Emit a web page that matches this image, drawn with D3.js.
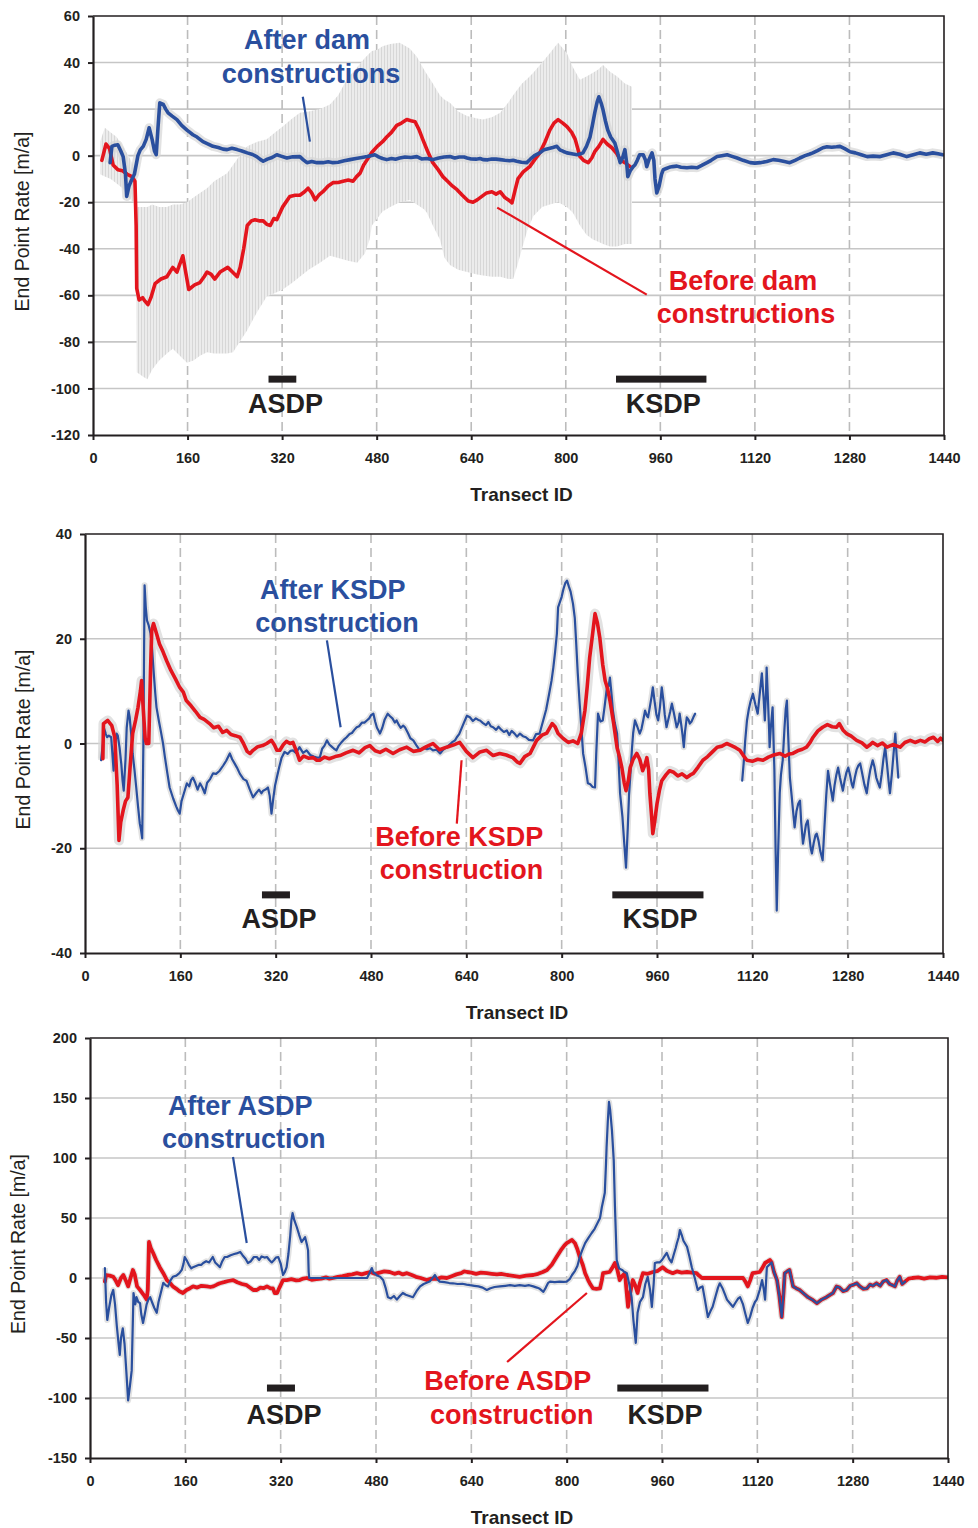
<!DOCTYPE html>
<html lang="en">
<head>
<meta charset="UTF-8">
<title>End Point Rate along transects</title>
<script src="https://d3js.org/d3.v7.min.js"></script>
<style>
    body { margin: 0; background: #ffffff; }
    svg text { font-family: "Liberation Sans", Arial, sans-serif; }
    .tick text { font-size: 14.5px; font-weight: bold; fill: #231f20; }
    .axis-title { font-size: 19px; font-weight: bold; fill: #231f20; }
    .y-title { font-size: 19.5px; fill: #231f20; }
    .note { font-size: 27px; font-weight: bold; }
</style>
</head>
<body>
<svg id="chart" width="978" height="1528"></svg>
<script>
    // ---- data: [transect id, end point rate m/a] ----
    const xTickValues = [0, 160, 320, 480, 640, 800, 960, 1120, 1280, 1440];

    // panel 1: before / after dam constructions
    const p1Before = [[15,-2],[22,5],[28,3],[34,-4],[42,-6],[50,-6.5],[58,-8],[66,-9],[71,-11],[73,-30],[74,-57],[78,-62],[84,-61],[88,-62.5],[93,-64],[98,-61],[105,-55],[115,-53],[125,-52],[130,-50],[135,-48],[142,-50],[152,-43],[162,-57.5],[172,-55.5],[181,-54.5],[188,-52],[193,-50],[200,-51],[206,-53],[215,-50],[228,-48],[236,-50],[244,-52],[249,-48],[255,-40],[261,-30],[268,-28],[274,-27.5],[281,-28],[288,-28],[294,-29.5],[300,-30],[306,-27],[311,-27.5],[321,-22],[333,-17.5],[342,-17],[350,-17],[358,-15.5],[364,-14],[370,-16],[376,-19],[382,-17],[389,-15.5],[398,-13],[406,-11.6],[415,-11.5],[423,-11],[432,-10.5],[440,-11],[446,-9],[452,-7.5],[458,-4],[464,-1.7],[472,1.5],[481,4],[490,6],[497,8],[505,10],[514,13],[522,14],[531,15.5],[538,15],[545,14.6],[552,11],[558,7],[566,2],[575,-3],[584,-6],[592,-9],[600,-11],[608,-13],[616,-14.6],[625,-17],[635,-19.5],[643,-20],[650,-19],[658,-17.5],[666,-16],[675,-15.5],[682,-16.5],[689,-15.5],[697,-18],[703,-19],[709,-20.3],[714,-15],[719,-10],[728,-7],[739,-4.7],[748,-1.5],[756,1.2],[765,6],[773,11],[780,14],[787,15.5],[795,14],[802,12.5],[810,10],[816,7],[824,-0.4],[830,-2],[838,-3],[844,-1],[849,1.7],[856,4],[863,7],[870,5],[878,3.4],[886,1],[892,-1.7],[900,-3],[909,-4.7]];

    const p1After = [[29,-3],[32,4],[37,4.5],[42,4.7],[47,2],[51,-0.4],[55,-8],[57,-17.5],[61,-13],[66,-10],[70,-8],[76,0],[80,2.5],[85,4],[90,7],[95,12],[100,7],[104,2],[107,0.4],[110,12],[113,22.7],[119,22],[123,20],[127,18.4],[134,17],[142,15.5],[150,13],[159,11],[164,10],[169,9],[176,8],[186,6],[195,5],[203,4],[212,3.5],[220,2.8],[227,2.6],[235,3.2],[244,2.6],[252,2],[261,1.2],[270,0.5],[277,-0.4],[283,-1.6],[288,-2.4],[295,-1.5],[303,-0.8],[311,0.4],[318,-0.2],[328,-1],[338,-0.5],[350,-0.4],[356,-1.8],[362,-3],[370,-2.5],[379,-3],[389,-3],[398,-2.6],[406,-3],[415,-2.8],[425,-2.2],[435,-1.7],[445,-1.2],[455,-0.8],[464,-0.4],[470,0],[477,0.4],[484,-0.6],[490,-1.2],[497,-1.7],[505,-1.2],[512,-1.5],[519,-1],[528,-0.6],[538,-0.8],[548,-0.4],[556,-1.4],[565,-1.2],[575,-1.7],[585,-1],[594,-0.6],[604,-0.4],[612,-1],[620,-0.6],[628,-0.6],[633,-1],[640,-1.4],[648,-1.5],[655,-1.2],[660,-1.7],[668,-1.8],[675,-1.4],[682,-1.5],[689,-1.7],[697,-2],[705,-2.2],[711,-2],[717,-2.4],[725,-2.8],[734,-3],[740,-1.5],[747,0],[756,1.2],[763,2.5],[770,3],[778,3.5],[785,4],[790,2.5],[796,1.8],[802,1.2],[810,0.8],[819,0.4],[825,0.8],[829,1.2],[835,4],[841,8],[845,13],[849,18.4],[853,23],[856,25.3],[860,22.5],[863,19.7],[867,15],[871,11],[876,8],[883,5.4],[888,1],[892,-3],[896,-1],[900,2.6],[903,-3],[905,-9],[909,-6.5],[914,-4.7],[917,-4],[921,-2],[925,0.4],[931,0.4],[935,-2],[937,-4.7],[941,-1.5],[946,1.2],[949,-2],[951,-10],[954,-16],[958,-13],[962,-8],[965,-6],[970,-5.5],[975,-5],[981,-4.7],[988,-4.5],[995,-5],[1005,-5.2],[1013,-5],[1022,-5.2],[1030,-4.2],[1039,-3],[1046,-2],[1056,-0.4],[1064,0],[1073,0.4],[1080,-0.2],[1090,-1],[1100,-2],[1112,-3],[1120,-3.2],[1129,-3],[1140,-2.5],[1151,-1.7],[1160,-2],[1170,-2.5],[1179,-3],[1188,-2],[1196,-1],[1205,0],[1212,0.6],[1218,1.2],[1226,2.2],[1235,3.4],[1242,3.8],[1250,3.6],[1258,3.8],[1264,4],[1272,3],[1281,1.7],[1290,1.2],[1300,0.4],[1310,-0.4],[1320,-0.2],[1332,-0.4],[1343,0.4],[1354,1.2],[1365,0.6],[1377,-0.4],[1388,0.4],[1399,1.2],[1410,0.6],[1421,1.2],[1430,0.8],[1438,0.4]];

    // uncertainty band of the "before" series: [id, low, high]
    const p1Band = [[12,-8,6],[20,-9,12],[30,-10,10],[40,-12,8],[50,-14,4],[60,-18,0],[68,-20,-4],[72,-21,-8],[74,-93,-22],[85,-95,-22],[92,-96,-22],[100,-92,-21],[112,-88,-22],[125,-85,-22],[135,-83,-21],[147,-86,-21],[159,-89,-20],[170,-88,-18],[181,-86,-16],[193,-84.5,-14],[205,-85,-11],[218,-85,-9],[227,-85,-7.5],[237,-84.5,-4],[248,-80,0],[261,-75,4],[278,-67,6],[294,-60.5,7],[308,-59,10],[321,-57.5,12.5],[335,-55,15.5],[350,-52,18.4],[365,-49,19],[384,-46,20],[401,-43,22],[415,-44,26],[430,-45,33],[447,-46,38],[460,-42,42],[468,-36,44],[472,-30,45],[481,-27,45.5],[490,-24,47],[503,-22,48],[519,-20,48.5],[536,-19,46],[548,-21,42.5],[560,-23,37],[565,-24.5,35],[575,-30,31],[587,-36,26],[595,-44,24],[604,-47,22.7],[618,-49,19],[633,-50,17],[650,-51,16],[660,-51.5,15.5],[675,-52,16.5],[689,-52,18.4],[703,-53,23],[711,-53,26],[717,-48,28],[726,-40,31],[735,-32,33],[745,-26,35.6],[760,-22,40],[773,-21,44],[787,-20,48.5],[802,-22,44],[812,-24.5,38],[824,-30,32.6],[835,-34,34],[846,-36,35.6],[855,-37,37],[863,-38,39],[875,-39,36],[887,-39,34],[900,-38,31],[912,-38,29.6]];

    // panel 2: before / after KSDP construction
    const p2Before = [[30,-2.9],[31,3.8],[38,4.4],[45,3.4],[50,1.2],[54,-8],[57,-18.5],[60,-15],[64,-12.8],[68,-11],[72,-10.3],[76,-4],[80,1.9],[85,4.5],[89,6.9],[93,10],[95,12],[97,8],[99,4.4],[101,1],[103,0],[107,0],[110,14],[112,21.6],[115,22.9],[120,21],[125,19],[131,17.5],[137,15.8],[144,14],[152,12.3],[159,10.7],[165,9.8],[170,8.2],[178,7.2],[185,6.2],[193,5],[200,4.6],[209,3.8],[216,3],[224,3.3],[231,2.1],[238,2.5],[245,1.7],[252,1.5],[260,1.2],[266,0],[272,-1.5],[277,-1.9],[282,-1.3],[290,-0.6],[298,-0.4],[305,0],[313,0.6],[318,-0.3],[322,-1.3],[327,-1.3],[333,-0.2],[338,0.4],[344,0],[349,0.2],[355,-1.5],[360,-3.2],[367,-2.4],[375,-2.8],[383,-2.7],[389,-3.2],[394,-3.2],[402,-2.6],[410,-2.9],[420,-2.5],[428,-2.3],[438,-1.8],[450,-1.3],[460,-1.8],[470,-0.8],[478,-0.4],[487,-1.4],[495,-1.7],[505,-1.1],[517,-1.9],[528,-1.2],[540,-0.7],[551,-1.5],[562,-1.3],[573,-0.6],[584,0],[595,-1.2],[607,-0.7],[618,-0.3],[629,0.2],[640,-1.5],[651,-2.7],[663,-1.6],[674,-1.3],[685,-2.3],[696,-1.9],[707,-2.2],[718,-2.7],[725,-3.5],[730,-3.8],[738,-2.5],[747,-1.9],[758,0.6],[767,1.6],[775,2],[784,3.8],[789,3.2],[794,1.9],[802,1],[811,0.2],[819,0.5],[827,0],[833,2],[839,6.3],[843,11],[847,16.4],[852,21],[856,24.8],[860,23],[864,20.2],[869,15],[873,12],[877,10.5],[881,8.2],[887,4],[893,-0.8],[897,-2.5],[901,-4.6],[905,-7.5],[908,-9],[912,-7],[915,-4.6],[920,-3],[926,-1.9],[931,-3],[936,-5.2],[940,-4],[943,-2.7],[946,-5],[948,-9.5],[951,-14],[953,-17.2],[956,-15],[960,-11.5],[964,-9],[968,-7.1],[975,-6],[981,-5.2],[988,-5.5],[995,-6.2],[1002,-5.8],[1010,-6.5],[1016,-6],[1021,-5.7],[1029,-4.5],[1037,-3.2],[1045,-2.5],[1053,-1.6],[1061,-0.7],[1069,-0.5],[1077,0],[1085,-0.4],[1092,-0.8],[1099,-1.3],[1105,-2.3],[1111,-3.2],[1120,-3.4],[1129,-3],[1138,-3.2],[1147,-2.6],[1156,-2.2],[1166,-1.9],[1175,-2.4],[1182,-2],[1188,-1.9],[1196,-1.4],[1204,-1.1],[1211,-0.7],[1217,0.2],[1222,1.2],[1230,2.4],[1238,3.1],[1246,3.6],[1254,3.2],[1261,3.1],[1266,3.8],[1272,2.6],[1278,1.9],[1286,1.4],[1295,0.6],[1304,0.1],[1312,-0.7],[1317,-0.3],[1322,0.2],[1330,-0.4],[1338,0.1],[1346,-0.7],[1356,-0.2],[1368,-0.7],[1376,0.2],[1385,0.6],[1393,0.2],[1402,0.6],[1410,0.3],[1417,0.9],[1424,1.2],[1431,0.4],[1436,1],[1440,0.6]];

    const p2AfterA = [[27,-3.2],[30,0],[32,2.9],[35,1.8],[37,1.2],[40,1.5],[44,1.2],[46,-2],[48,-5.2],[50,-1],[53,1.9],[55,1.5],[58,-0.8],[61,-4],[63,-7],[65,-9],[68,-3],[70,3],[73,6.3],[75,5],[78,1.2],[80,-2],[83,-5],[86,-8.4],[89,-12],[92,-15.3],[94,-16.5],[96,-18.1],[98,0],[100,30.2],[102,26],[104,23.5],[107,22.5],[110,21],[112,19.1],[115,14],[118,9.5],[120,6.9],[124,4.3],[127,2.5],[131,0],[134,-2.5],[138,-5.5],[142,-8.4],[148,-10.5],[153,-12],[156,-12.8],[159,-13.4],[162,-11],[166,-9.5],[171,-7.6],[175,-8.2],[178,-7],[181,-6.5],[185,-7.5],[189,-8.8],[193,-7.6],[197,-8.4],[201,-9.5],[205,-7.5],[210,-6.8],[215,-5.7],[220,-5.8],[226,-5.2],[232,-4.2],[237,-3.3],[243,-1.9],[247,-3],[251,-3.8],[255,-4.6],[260,-5.8],[266,-6.8],[271,-7.1],[276,-8.6],[282,-10.3],[287,-9.5],[292,-8.8],[296,-9.5],[299,-9],[303,-8.8],[307,-8.4],[310,-10],[313,-13.4],[316,-10.5],[319,-8],[322,-6.5],[326,-4.5],[330,-2.7],[335,-1.6],[340,-2],[345,-1.4],[349,-1.3],[354,-1.8],[360,-0.7],[366,-1.8],[372,-1.3],[378,-2.2],[384,-2.5],[389,-2.7],[394,-2.7],[398,-1],[402,-0.4],[406,0.6],[410,-0.2],[414,-0.6],[418,-1],[422,-1.3],[426,-0.4],[431,0.3],[435,0.8],[439,1.2],[444,1.8],[448,2],[452,2.6],[456,3.1],[460,3.3],[465,4],[469,4],[473,4.4],[477,4.8],[480,5.4],[484,5.7],[487,4.2],[490,3],[493,2.4],[495,1.9],[499,3],[503,4.6],[508,5.7],[512,5.2],[516,4.8],[520,4],[523,4.4],[527,3.5],[530,3],[534,3.4],[537,3.1],[542,2],[546,1],[551,0.6],[556,-0.3],[562,-1.3],[568,-0.8],[574,-1.1],[579,-0.9],[584,-1.3],[590,-1.2],[596,-1.9],[601,-1.2],[607,-0.7],[612,-0.2],[617,0.3],[621,0.6],[624,1.2],[628,1.8],[632,2.9],[636,4],[641,5.3],[646,5],[651,4.3],[656,4.8],[660,4.5],[663,4.4],[668,3.9],[673,3.5],[677,4.1],[681,3.3],[685,3.1],[690,2.6],[694,3.2],[699,2.6],[703,2.2],[708,2.5],[712,1.6],[716,2.4],[721,1.9],[725,1.3],[730,1.9],[735,1.4],[740,1.2],[745,0.7],[752,0.6],[757,1.8],[763,1.9],[769,4.4],[774,6.5],[779,9.5],[783,12],[786,14.5],[789,17.5],[792,21],[794,26],[797,27],[800,28],[803,29.5],[806,30.6],[809,31.1],[812,30],[815,29],[819,26.7],[822,24],[824,20],[827,13.4],[830,8],[833,3],[836,-1.9],[840,-4.5],[844,-7.6],[848,-7.8],[852,-8.3],[856,-8.4],[858,-2],[861,5.7],[865,4.2],[869,4.4],[872,7],[876,10.7],[879,11],[881,12.6],[884,9],[886,6.3],[889,4],[893,1.9],[895,-2],[898,-9.5],[902,-14],[905,-19],[908,-23.7],[911,-16],[913,-10],[915,-6.5],[918,-1],[920,2],[923,4.4],[927,3.2],[931,1.9],[934,2.8],[937,4.5],[940,6.3],[943,5.3],[945,5],[948,7],[951,9],[953,10.7],[956,8],[959,5.5],[962,4.4],[965,7],[968,10.7],[971,8],[973,5.5],[976,3.1],[979,4.6],[982,6],[985,7.6],[988,6],[991,4.3],[993,3.1],[996,4],[998,5.7],[1001,3.3],[1003,1.5],[1005,-0.7],[1007,2.2],[1010,5],[1013,4.5],[1015,3.8],[1018,4.2],[1021,5],[1024,5.7]];

    const p2AfterB = [[1103,-7.1],[1106,-3],[1108,0.5],[1111,4.4],[1114,6.5],[1117,8],[1121,9.5],[1125,7.5],[1129,5.7],[1132,9],[1136,13.4],[1139,8.5],[1141,4.4],[1143,10],[1144,14.5],[1146,9],[1148,3],[1149,-0.7],[1151,3],[1154,6.9],[1157,-5],[1159,-20],[1161,-31.9],[1163,-22],[1166,-9.5],[1168,-6],[1171,-3.2],[1174,3],[1176,6.5],[1178,8.2],[1180,2],[1183,-6.5],[1186,-10],[1188,-12.5],[1191,-16],[1194,-13],[1197,-11.5],[1200,-10.9],[1202,-15],[1205,-19.1],[1208,-17],[1210,-15.5],[1213,-14.7],[1216,-18],[1218,-20],[1220,-21],[1223,-19],[1226,-17.5],[1228,-17.2],[1231,-18.5],[1234,-20.5],[1238,-22.3],[1241,-16],[1244,-10],[1247,-5.2],[1250,-7.5],[1253,-9.5],[1255,-10.9],[1258,-8],[1261,-6],[1264,-4.6],[1267,-6.5],[1270,-8],[1272,-9],[1275,-7],[1278,-5.5],[1281,-4.6],[1284,-6],[1287,-7.8],[1289,-8.4],[1292,-6.5],[1295,-5],[1298,-4.2],[1301,-3.8],[1304,-5.5],[1308,-7.8],[1312,-9.5],[1315,-7],[1318,-5],[1322,-3.2],[1325,-4.5],[1328,-6.5],[1331,-7.5],[1334,-8.4],[1337,-6],[1340,-3],[1343,-0.7],[1346,-4],[1349,-7.5],[1351,-9.5],[1354,-6],[1357,-2],[1360,1.9],[1362,-2],[1365,-6.5]];

    // panel 3: before / after ASDP construction
    const p3BeforeHead = [[25,-3],[27,2.5],[33,2],[39,1],[43,-2],[47,-6],[52,0],[56,2.5],[60,-2],[64,-7],[68,0],[72,6.7],[75,3],[79,-7],[84,-10],[90,-14],[95,-18],[97,-10],[99,30],[102,25],[106,20.8],[111,15],[117,9],[123,4],[129,-1.7],[134,-4],[139,-7],[145,-9],[150,-11],[156,-12.5],[162,-10],[168,-8.5],[173,-7],[180,-8],[187,-6.5],[196,-7],[202,-7.5],[207,-7],[213,-5.5],[218,-4.4],[225,-3.5],[232,-2.5],[240,-1.7],[247,-3.5],[255,-5],[263,-6],[270,-8.5],[274,-10],[280,-10],[286,-8],[291,-8.5],[297,-7],[303,-8.6],[307,-8.6],[310,-12.5],[314,-12.5],[318,-8],[324,-1.7],[330,-1.7],[338,-1],[346,-2],[352,-1.7],[358,-0.5],[364,0],[372,-1.5],[380,-1],[388,-0.5],[396,0.5],[402,-0.5],[408,0],[416,1],[424,1.5],[432,2.5],[440,3],[448,4],[456,3],[463,4],[470,5],[478,3.5],[486,4.5],[494,5.5],[503,5],[511,3.5],[518,4.5],[525,3],[532,4],[540,2.5],[547,1],[555,0],[565,-1.7],[573,-0.5],[582,-0.8],[590,0.5],[599,0],[607,1.5],[615,3],[623,4],[628,5.5],[633,5],[640,4.5],[648,3.5],[656,4.5],[666,4],[674,3.5],[683,3],[690,3.5],[700,2.5],[710,1.8],[721,1],[732,2],[744,2.5],[752,3.5],[760,5],[767,6.7],[775,11],[783,17.5],[790,23],[796,27],[800,29],[805,30.5],[809,31.7],[814,29],[818,24],[822,17.5],[827,11],[831,4],[836,-1.7],[840,-5.5],[844,-8.6],[850,-9],[856,-8.6],[859,-2],[861,4],[866,4.5],[872,5],[876,8],[881,12.5],[885,7],[889,-1.7],[893,1.5],[898,4],[900,-8],[903,-24],[906,-14],[911,-1.7],[915,-6],[919,-12.5],[923,-4],[928,4],[936,3.5],[945,5],[953,6],[961,9],[968,6],[978,4],[985,5.5],[993,4.5],[1002,5],[1010,4.5],[1018,4],[1022,2],[1027,0],[1040,0],[1052,0],[1065,0],[1080,0],[1096,0],[1100,-3],[1104,-7],[1108,-2],[1112,4],[1118,4.5],[1124,5],[1128,8],[1133,12.5],[1138,14],[1141,15]];

    const p3AfterHead = [[25,8.3],[27,-20],[29,-35],[32,-25],[36,-14],[39,-10],[42,-22],[45,-40],[48,-55],[50,-64],[52,-50],[55,-42],[58,-55],[61,-78],[64,-102],[67,-90],[70,-77],[73,-12.5],[76,-22],[78,-16],[81,-20],[84,-21],[86,-30],[89,-37.5],[92,-30],[95,-22],[98,-18],[101,-16],[104,-20],[108,-25],[112,-29],[115,-20],[119,-12],[123,-4],[127,-6],[131,-7],[135,-2],[139,1],[145,2],[150,4],[154,6.7],[157,12],[159,17.5],[162,15],[166,11],[170,8],[173,9],[178,10],[183,11],[187,11],[190,12.5],[195,14],[200,13],[206,17.5],[210,13],[214,11],[218,9],[222,14],[226,17.5],[230,17.5],[236,19],[242,20],[246,20.5],[252,21.7],[256,19],[261,16],[265,12.5],[270,14],[275,17.5],[280,17.5],[284,15],[288,18],[293,17],[297,17.5],[301,15],[305,13],[309,15],[312,17],[316,17.5],[320,12],[324,2.5],[327,5],[330,9],[333,20],[336,35],[338,48],[340,54],[343,48],[347,42.5],[351,36],[355,30],[358,32],[361,34],[364,28],[366,23],[367,5],[368,0],[380,0],[395,0],[410,0],[425,0],[440,0],[455,0],[465,0],[470,5],[473,8.3],[476,4],[478,4],[482,2],[487,1],[492,-1.7],[496,-8],[500,-16],[505,-17],[510,-15],[515,-18],[520,-15],[525,-12.5],[530,-14],[536,-15],[542,-16],[548,-11],[554,-7],[560,-5],[565,-4],[570,-3],[575,0],[579,2.5],[583,-1],[587,-3],[595,-3.5],[603,-4.2],[609,-4.4],[617,-5],[625,-4.8],[632,-5.5],[638,-6],[645,-6.5],[652,-7],[659,-8],[666,-10],[672,-8.5],[679,-7.5],[688,-7],[697,-6.5],[705,-6],[713,-6.5],[721,-6],[730,-6.5],[737,-6],[744,-7],[750,-8],[755,-9],[761,-11.5],[765,-8],[769,-4],[772,-3],[780,-3.5],[788,-3],[795,-3.2],[800,-3],[805,-1],[809,2.5],[814,6],[818,10],[822,17.5],[826,23],[831,29],[836,33],[842,37.5],[847,41],[852,46],[856,50],[859,59],[862,66],[864,71],[866,95],[867,109],[869,130],[871,146.7],[873,140],[876,123],[879,98],[881,60],[884,15],[888,8],[893,6.7],[897,5],[901,4],[905,-5],[909,-16],[912,-35],[916,-54],[919,-29],[923,-20],[928,-16],[932,-5],[936,1],[940,-10],[943,-24],[946,-5],[948,12.5],[952,13],[956,13],[960,15],[964,18],[968,21],[972,16],[976,13],[980,20],[983,25],[985,29],[988,34],[990,40],[993,36],[996,31],[1002,26],[1006,18],[1010,9],[1015,0],[1020,-10],[1024,-8],[1028,-7],[1032,-18],[1037,-32.5],[1041,-28],[1045,-24],[1050,-15],[1054,-8],[1057,-4.4],[1062,-9],[1066,-14],[1069,-18],[1074,-21],[1079,-24],[1084,-20],[1088,-17],[1091,-16],[1096,-22],[1100,-30],[1104,-37.5],[1108,-32],[1112,-25],[1116,-20],[1119,-18],[1124,-10],[1128,-1.7],[1131,-10],[1133,-18],[1136,9],[1140,11]];

    // stretch where both panel-3 series coincide
    const p3Shared = [[1144,13],[1148,5],[1153,-1.7],[1157,-15],[1161,-32.5],[1164,-12],[1166,4],[1170,5.5],[1174,6.7],[1177,0],[1180,-7],[1185,-8.5],[1191,-10],[1198,-13],[1205,-16],[1212,-18],[1220,-21],[1228,-18],[1236,-16],[1242,-14],[1247,-12.5],[1253,-7],[1258,-8],[1264,-11],[1270,-10],[1276,-6.5],[1282,-5.5],[1287,-4.4],[1292,-7],[1298,-9],[1304,-8.6],[1309,-5.5],[1314,-6.5],[1320,-4.4],[1326,-6.5],[1331,-3],[1337,-1.7],[1342,-5],[1347,-6],[1351,-7],[1355,-2],[1359,1],[1363,-5],[1368,-3]];

    const p3BeforeTail = [[1374,-0.5],[1380,0],[1390,0.5],[1400,-0.5],[1410,0.6],[1420,0.2],[1430,1],[1440,0.5]];

    // dam locations along the transects
    const asdpRange = [297, 344];
    const ksdpRange = [885, 1038];

    const blue = "#2a4f9e";
    const red = "#e3151d";
    const ink = "#231f20";

    // layout for each panel
    let panels = [
        {id: 1, left: 93, right: 944, top: 16, bottom: 435, yDomain: [-120, 60], yStep: 20, yTitleX: 22,
            band: p1Band,
            series: [
                {data: p1Before, color: red, width: 3.6, halo: 0},
                {data: p1After, color: blue, width: 3.6, halo: 9}
            ],
            barY: -96, damLabelY: -110.5,
            notes: [
                {lines: [["After dam", 362, 46], ["constructions", 369, 31.3]], color: blue, leader: [[355, 25.3], [367, 6]]},
                {lines: [["Before dam", 1100, -57.5], ["constructions", 1105, -72]], color: red, leader: [[684, -22.3], [937, -59.7]]}
            ]},
        {id: 2, left: 85, right: 943, top: 534, bottom: 953, yDomain: [-40, 40], yStep: 20, yTitleX: 23,
            band: null,
            series: [
                {data: p2AfterA, color: blue, width: 2.2, halo: 6},
                {data: p2AfterB, color: blue, width: 2.2, halo: 6},
                {data: p2Before, color: red, width: 3.6, halo: 10}
            ],
            barY: -28.9, damLabelY: -35.3,
            notes: [
                {lines: [["After KSDP", 416, 27.5], ["construction", 423, 21.2]], color: blue, leader: [[406, 19.7], [429, 3.1]]},
                {lines: [["Before KSDP", 628, -19.5], ["construction", 632, -25.8]], color: red, leader: [[624, -15.3], [632, -3.2]]}
            ]},
        {id: 3, left: 90, right: 948, top: 1038, bottom: 1458, yDomain: [-150, 200], yStep: 50, yTitleX: 18,
            band: null,
            series: [
                {data: p3BeforeHead.concat(p3Shared, p3BeforeTail), color: red, width: 3.8, halo: 6},
                {data: p3AfterHead.concat(p3Shared), color: blue, width: 2.2, halo: 6}
            ],
            barY: -91.7, damLabelY: -121.7,
            notes: [
                {lines: [["After ASDP", 252, 135.8], ["construction", 258, 108.3]], color: blue, leader: [[240, 100.8], [263, 29.2]]},
                {lines: [["Before ASDP", 701, -93.3], ["construction", 708, -121.7]], color: red, leader: [[700, -70], [834, -12.5]]}
            ]}
    ];

    let svg = d3.select("#chart");
    let defs = svg.append("defs");

    // vertical hatching used by the wide uncertainty band
    let hatch = defs.append("pattern")
        .attr("id", "hatch")
        .attr("patternUnits", "userSpaceOnUse")
        .attr("width", 3).attr("height", 10);
    hatch.append("rect").attr("width", 3).attr("height", 10).attr("fill", "#ececec");
    hatch.append("line").attr("x1", 0.5).attr("x2", 0.5).attr("y1", 0).attr("y2", 10)
        .attr("stroke", "#d7d7d7").attr("stroke-width", 1);

    // plain integer labels, hyphen minus, no thousands separator
    let plainNumber = d => String(d);

    panels.forEach(drawPanel);

    function drawPanel(cfg) {
        let x = d3.scaleLinear().domain([0, 1440]).range([cfg.left, cfg.right]);
        let y = d3.scaleLinear().domain(cfg.yDomain).range([cfg.bottom, cfg.top]);
        let yTicks = d3.range(cfg.yDomain[0], cfg.yDomain[1] + 1, cfg.yStep);
        let g = svg.append("g");

        defs.append("clipPath").attr("id", "clip" + cfg.id)
            .append("rect")
            .attr("x", cfg.left).attr("y", cfg.top)
            .attr("width", cfg.right - cfg.left).attr("height", cfg.bottom - cfg.top);

        // grid
        g.append("g").selectAll("line").data(yTicks.slice(1, -1)).join("line")
            .attr("x1", cfg.left).attr("x2", cfg.right)
            .attr("y1", d => y(d)).attr("y2", d => y(d))
            .attr("stroke", "#c6c6c6").attr("stroke-width", 1.6);
        g.append("g").selectAll("line").data(xTickValues.slice(1, -1)).join("line")
            .attr("x1", d => x(d)).attr("x2", d => x(d))
            .attr("y1", cfg.top).attr("y2", cfg.bottom)
            .attr("stroke", "#bcbcbc").attr("stroke-width", 1.6)
            .attr("stroke-dasharray", "9,5");

        let plot = g.append("g").attr("clip-path", "url(#clip" + cfg.id + ")");

        if (cfg.band) {
            let area = d3.area()
                .x(d => x(d[0])).y0(d => y(d[1])).y1(d => y(d[2]));
            plot.append("path").datum(cfg.band)
                .attr("d", area)
                .attr("fill", "url(#hatch)");
        }

        let line = d3.line().x(d => x(d[0])).y(d => y(d[1]));

        // light grey error halo under each line
        cfg.series.forEach(s => {
            if (s.halo > 0) {
                plot.append("path").datum(s.data)
                    .attr("d", line)
                    .attr("fill", "none")
                    .attr("stroke", "#d6d6d6")
                    .attr("stroke-opacity", 0.7)
                    .attr("stroke-width", s.halo)
                    .attr("stroke-linejoin", "round");
            }
        });
        cfg.series.forEach(s => {
            plot.append("path").datum(s.data)
                .attr("d", line)
                .attr("fill", "none")
                .attr("stroke", s.color)
                .attr("stroke-width", s.width)
                .attr("stroke-linejoin", "round")
                .attr("stroke-linecap", "round");
        });

        // dam bars and labels
        let dams = [{name: "ASDP", range: asdpRange}, {name: "KSDP", range: ksdpRange}];
        g.append("g").selectAll("rect").data(dams).join("rect")
            .attr("x", d => x(d.range[0]))
            .attr("width", d => x(d.range[1]) - x(d.range[0]))
            .attr("y", y(cfg.barY) - 3.5)
            .attr("height", 7)
            .attr("fill", ink);
        g.append("g").selectAll("text").data(dams).join("text")
            .attr("class", "note")
            .attr("x", d => x((d.range[0] + d.range[1]) / 2) + (d.name === "ASDP" ? 3 : 2))
            .attr("y", y(cfg.damLabelY))
            .attr("text-anchor", "middle")
            .attr("fill", ink)
            .text(d => d.name);

        // annotations with leader lines
        cfg.notes.forEach(n => {
            g.append("line")
                .attr("x1", x(n.leader[0][0])).attr("y1", y(n.leader[0][1]))
                .attr("x2", x(n.leader[1][0])).attr("y2", y(n.leader[1][1]))
                .attr("stroke", n.color).attr("stroke-width", 2.2);
            g.selectAll(null).data(n.lines).join("text")
                .attr("class", "note")
                .attr("x", d => x(d[1]))
                .attr("y", d => y(d[2]))
                .attr("text-anchor", "middle")
                .attr("fill", n.color)
                .text(d => d[0]);
        });

        // frame: top and right
        g.append("path")
            .attr("d", `M${cfg.left},${cfg.top}H${cfg.right}V${cfg.bottom}`)
            .attr("fill", "none").attr("stroke", ink).attr("stroke-width", 1.6);

        // axes
        let yAxis = g.append("g")
            .attr("transform", `translate(${cfg.left},0)`)
            .call(d3.axisLeft(y).tickValues(yTicks).tickFormat(plainNumber)
                .tickSize(5).tickSizeOuter(0).tickPadding(8));
        let xAxis = g.append("g")
            .attr("transform", `translate(0,${cfg.bottom})`)
            .call(d3.axisBottom(x).tickValues(xTickValues).tickFormat(plainNumber)
                .tickSize(5).tickSizeOuter(0).tickPadding(13));
        [yAxis, xAxis].forEach(a => {
            a.select(".domain").attr("stroke", ink).attr("stroke-width", 2.2);
            a.selectAll(".tick line").attr("stroke", ink).attr("stroke-width", 2);
            a.selectAll(".tick text").attr("fill", ink).attr("font-family", null).attr("font-size", null);
        });

        g.append("text")
            .attr("class", "axis-title")
            .attr("x", (cfg.left + cfg.right) / 2 + 3)
            .attr("y", cfg.bottom + 66)
            .attr("text-anchor", "middle")
            .text("Transect ID");

        g.append("text")
            .attr("class", "y-title")
            .attr("transform", `translate(${cfg.yTitleX},${(cfg.top + cfg.bottom) / 2 - 4}) rotate(-90)`)
            .attr("dy", "0.35em")
            .attr("text-anchor", "middle")
            .text("End Point Rate [m/a]");
    }
</script>
</body>
</html>
